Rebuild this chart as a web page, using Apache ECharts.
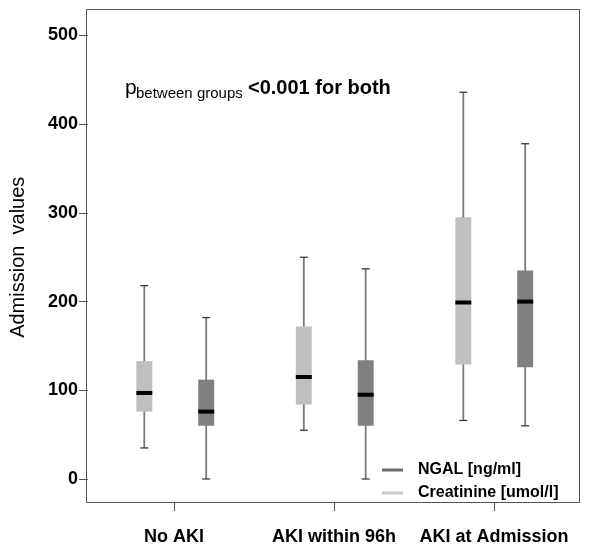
<!DOCTYPE html>
<html>
<head>
<meta charset="utf-8">
<script src="https://cdn.jsdelivr.net/npm/echarts@6/dist/echarts.min.js"></script>
<style>html,body{margin:0;padding:0;background:#fff}#c{width:600px;height:560px}</style>
</head>
<body>
<div id="c"></div>
<script>
// Data: [min whisker, Q1, median, Q3, max whisker]
var categories = ['No AKI', 'AKI within 96h', 'AKI at Admission'];
var creatinine = [[35, 76, 97, 133, 218], [55, 84, 115, 172, 250], [66, 129, 199, 295, 436]];
var ngal = [[0, 60, 76, 112, 182], [0, 60, 95, 134, 237], [60, 126, 200, 235, 378]];
var seriesNames = ['Creatinine [umol/l]', 'NGAL [ng/ml]'];
var yMin = 0, yMax = 500, yStep = 100;

var FONT = '"Liberation Sans", Arial, sans-serif';
var chart = echarts.init(document.getElementById('c'), null, {renderer: 'canvas'});

function toRows(arr) {
  return arr.map(function (v, i) { return [i, v[0], v[1], v[2], v[3], v[4]]; });
}

function makeRender(offsetFrac, fill) {
  return function (params, api) {
    var cat = api.value(0);
    var band = api.size([1, 0])[0];
    var base = api.coord([cat, 0]);
    var cx = base[0] + offsetFrac * band;
    var yLow = api.coord([cat, api.value(1)])[1];
    var yQ1 = api.coord([cat, api.value(2)])[1];
    var yMed = api.coord([cat, api.value(3)])[1];
    var yQ3 = api.coord([cat, api.value(4)])[1];
    var yHigh = api.coord([cat, api.value(5)])[1];
    var bw = band * 0.1;
    var capW = 8;
    return {
      type: 'group',
      children: [
        {type: 'line', shape: {x1: cx, y1: yLow, x2: cx, y2: yHigh},
          style: {stroke: '#7a7a7a', lineWidth: 1.8}},
        {type: 'line', shape: {x1: cx - capW / 2, y1: yLow, x2: cx + capW / 2, y2: yLow},
          style: {stroke: '#3a3a3a', lineWidth: 1.3}},
        {type: 'line', shape: {x1: cx - capW / 2, y1: yHigh, x2: cx + capW / 2, y2: yHigh},
          style: {stroke: '#3a3a3a', lineWidth: 1.3}},
        {type: 'rect', shape: {x: cx - bw / 2, y: yQ3, width: bw, height: yQ1 - yQ3},
          style: {fill: fill}},
        {type: 'line', shape: {x1: cx - bw / 2, y1: yMed, x2: cx + bw / 2, y2: yMed},
          style: {stroke: '#000', lineWidth: 4}}
      ]
    };
  };
}

var option = {
  animation: false,
  backgroundColor: '#fff',
  grid: [
    {left: 94, right: 26, top: 35.5, bottom: 81, containLabel: false},
    {left: 94, right: 26, top: 500, bottom: 58, containLabel: false}
  ],
  xAxis: [
    {
      type: 'category', gridIndex: 0,
      data: categories, boundaryGap: true, show: false
    },
    {
      type: 'category', gridIndex: 1,
      data: categories, boundaryGap: true, position: 'bottom',
      axisLine: {show: false},
      axisTick: {show: true, inside: false, alignWithLabel: true, length: 9, lineStyle: {color: '#555', width: 1}},
      axisLabel: {interval: 0, margin: 26, color: '#000', fontFamily: FONT, fontWeight: 'bold', fontSize: 18},
      splitLine: {show: false}
    }
  ],
  yAxis: [
    {
      type: 'value', gridIndex: 0,
      min: yMin, max: yMax, interval: yStep,
      offset: 7.5,
      name: 'Admission  values',
      nameLocation: 'middle',
      nameGap: 60,
      nameTextStyle: {color: '#000', fontFamily: FONT, fontSize: 20},
      axisLine: {show: false},
      axisTick: {show: true, length: 9, lineStyle: {color: '#555', width: 1}},
      axisLabel: {margin: 10, color: '#000', fontFamily: FONT, fontWeight: 'bold', fontSize: 18},
      splitLine: {show: false}
    },
    {type: 'value', gridIndex: 1, show: false}
  ],
  legend: {
    orient: 'vertical',
    left: 382,
    top: 462,
    padding: 0,
    itemWidth: 21,
    itemHeight: 3,
    itemGap: 7,
    icon: 'rect',
    selectedMode: false,
    textStyle: {color: '#000', fontFamily: FONT, fontWeight: 'bold', fontSize: 16, padding: [0, 0, 0, 10]},
    data: [
      {name: 'NGAL [ng/ml]', itemStyle: {color: '#6e6e6e'}},
      {name: 'Creatinine [umol/l]', itemStyle: {color: '#c8c8c8'}}
    ]
  },
  graphic: [
    {type: 'rect', silent: true, z: 10,
      shape: {x: 86.5, y: 9.5, width: 493, height: 493},
      style: {fill: 'none', stroke: '#555', lineWidth: 1}},
    {type: 'text', left: 125, top: 78, z: 10,
      style: {text: 'p', font: '21px ' + FONT, fill: '#000'}},
    {type: 'text', left: 136, top: 86, z: 10,
      style: {text: 'between groups', font: '15px ' + FONT, fill: '#000'}},
    {type: 'text', left: 248, top: 78, z: 10,
      style: {text: '<0.001 for both', font: 'bold 20px ' + FONT, fill: '#000'}}
  ],
  series: [
    {name: seriesNames[0], type: 'custom', renderItem: makeRender(-0.194, '#c0c0c0'),
      xAxisIndex: 0, yAxisIndex: 0,
      itemStyle: {color: '#c8c8c8'},
      encode: {x: 0, y: [1, 2, 3, 4, 5]}, data: toRows(creatinine)},
    {name: seriesNames[1], type: 'custom', renderItem: makeRender(0.194, '#808080'),
      xAxisIndex: 0, yAxisIndex: 0,
      itemStyle: {color: '#6e6e6e'},
      encode: {x: 0, y: [1, 2, 3, 4, 5]}, data: toRows(ngal)}
  ]
};
chart.setOption(option);
</script>
</body>
</html>
